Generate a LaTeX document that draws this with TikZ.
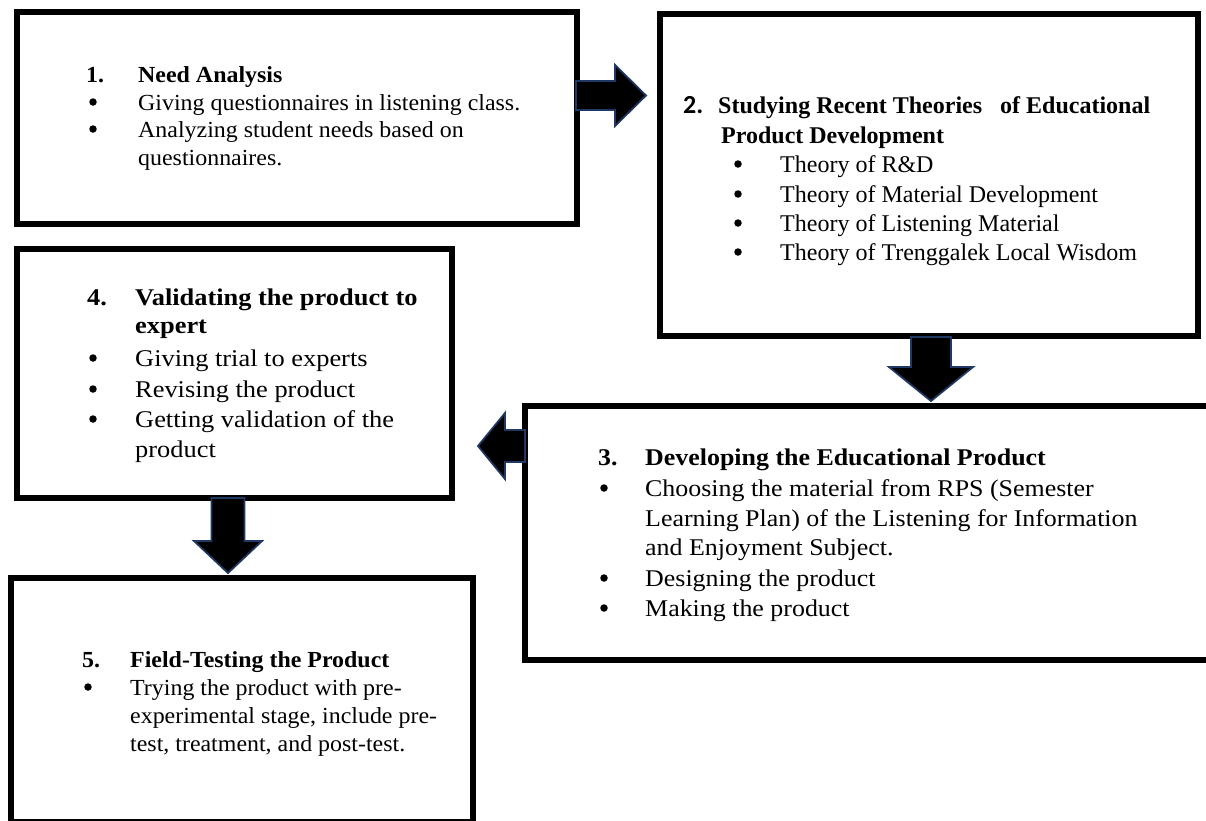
\documentclass[tikz,border=0pt]{standalone}
\usepackage{fontspec}
\setmainfont{Liberation Serif}
\newfontfamily\fA[FakeStretch=1.04]{Liberation Serif}
\newfontfamily\fB[FakeStretch=1.0]{Liberation Serif}
\newfontfamily\fD[FakeStretch=1.08]{Liberation Serif}
\newfontfamily\fE[FakeStretch=1.1]{Liberation Serif}
\newfontfamily\fC{Carlito}
\usetikzlibrary{calc}
\definecolor{navy}{RGB}{31,56,100}
\newcommand\blockarrowH[5]{%
  \filldraw[blockarr] ($(#1)+(0,-#3)$) -- ($(#2)+(#5,-#3)$) -- ($(#2)+(#5,-#4)$) -- (#2) -- ($(#2)+(#5,#4)$) -- ($(#2)+(#5,#3)$) -- ($(#1)+(0,#3)$) -- cycle;}
\newcommand\blockarrowV[5]{%
  \filldraw[blockarr] ($(#1)+(-#3,0)$) -- ($(#2)+(-#3,#5)$) -- ($(#2)+(-#4,#5)$) -- (#2) -- ($(#2)+(#4,#5)$) -- ($(#2)+(#3,#5)$) -- ($(#1)+(#3,0)$) -- cycle;}
\tikzset{
  stepbox/.style={draw=black, line width=6pt, fill=white, rectangle, inner sep=0pt, outer sep=0pt},
  blockarr/.style={fill=black, draw=navy, line width=1.8pt, line join=miter},
  txtA/.style={anchor=base west, inner sep=0pt, font=\fA\fontsize{23}{28}\selectfont},
  txtB/.style={anchor=base west, inner sep=0pt, font=\fB\fontsize{24}{29}\selectfont},
  txtD/.style={anchor=base west, inner sep=0pt, font=\fD\fontsize{24}{29}\selectfont},
  txtE/.style={anchor=base west, inner sep=0pt, font=\fE\fontsize{24}{29}\selectfont},
  bulletdot/.style={circle, fill=black, inner sep=0pt, minimum size=7.5pt},
}
\begin{document}
\begin{tikzpicture}[x=1pt,y=-1pt]
\useasboundingbox (0,0) rectangle (1206,820);
\fill[white] (0,0) rectangle (1206,820);
\begin{scope}
\clip (0,0) rectangle (1206,820);
% boxes
\node[stepbox, minimum width=560pt, minimum height=212pt] (box1) at (297,118) {};
\node[stepbox, minimum width=538pt, minimum height=322pt] (box2) at (929,175) {};
\node[stepbox, minimum width=687pt, minimum height=254pt] (box3) at (868.5,533) {};
\node[stepbox, minimum width=435pt, minimum height=249pt] (box4) at (234.5,373.5) {};
\node[stepbox, minimum width=462pt, minimum height=244pt] (box5) at (242,700) {};

% box 1 text
\node[txtA] (n1num) at (86,82) {\bfseries 1.};
\node[txtA] (n1head) at (138,82) {\bfseries Need Analysis};
\node[bulletdot] (n1b1) at (93,102) {};
\node[txtA] (n1l1) at (138,110) {Giving questionnaires in listening class.};
\node[bulletdot] (n1b2) at (93,129) {};
\node[txtA] (n1l2) at (138,137) {Analyzing student needs based on};
\node[txtA] (n1l3) at (138,165) {questionnaires.};

% box 2 text
\node[anchor=base west, inner sep=0pt, font=\fC\bfseries\fontsize{26}{29}\selectfont] (n2num) at (683,113) {2.};
\node[txtB] (n2head) at (718,113) {\bfseries Studying Recent Theories\ \ \ of Educational};
\node[txtB] (n2head2) at (721,143) {\bfseries Product Development};
\node[bulletdot] (n2b1) at (738,164) {};
\node[txtB] (n2l1) at (780,172) {Theory of R\&D};
\node[bulletdot] (n2b2) at (738,194) {};
\node[txtB] (n2l2) at (780,202) {Theory of Material Development};
\node[bulletdot] (n2b3) at (738,223) {};
\node[txtB] (n2l3) at (780,231) {Theory of Listening Material};
\node[bulletdot] (n2b4) at (738,252) {};
\node[txtB] (n2l4) at (780,260) {Theory of Trenggalek Local Wisdom};

% box 3 text
\node[txtD] (n3num) at (598,465) {\bfseries 3.};
\node[txtD] (n3head) at (645,465) {\bfseries Developing the Educational Product};
\node[bulletdot] (n3b1) at (604,488) {};
\node[txtD] (n3l1) at (645,496) {Choosing the material from RPS (Semester};
\node[txtD] (n3l2) at (645,526) {Learning Plan) of the Listening for Information};
\node[txtD] (n3l3) at (645,555) {and Enjoyment Subject.};
\node[bulletdot] (n3b2) at (604,578) {};
\node[txtD] (n3l4) at (645,586) {Designing the product};
\node[bulletdot] (n3b3) at (604,608) {};
\node[txtD] (n3l5) at (645,616) {Making the product};

% box 4 text
\node[txtE] (n4num) at (87,305) {\bfseries 4.};
\node[txtE] (n4head) at (135,305) {\bfseries Validating the product to};
\node[txtE] (n4head2) at (135,333) {\bfseries expert};
\node[bulletdot] (n4b1) at (93,358) {};
\node[txtE] (n4l1) at (135,366) {Giving trial to experts};
\node[bulletdot] (n4b2) at (93,389) {};
\node[txtE] (n4l2) at (135,397) {Revising the product};
\node[bulletdot] (n4b3) at (93,419) {};
\node[txtE] (n4l3) at (135,427) {Getting validation of the};
\node[txtE] (n4l4) at (135,457) {product};

% box 5 text
\node[txtA] (n5num) at (82,667) {\bfseries 5.};
\node[txtA] (n5head) at (130,667) {\bfseries Field-Testing the Product};
\node[bulletdot] (n5b1) at (88,687) {};
\node[txtA] (n5l1) at (130,695) {Trying the product with pre-};
\node[txtA] (n5l2) at (130,723) {experimental stage, include pre-};
\node[txtA] (n5l3) at (130,751) {test, treatment, and post-test.};

% block arrows between boxes
\coordinate (s12) at ($(box1.east |- 0,95.5)+(-1,0)$);
\coordinate (t12) at ($(box2.west |- 0,95.5)+(-14,0)$);
\blockarrowH{s12}{t12}{14.5}{30.5}{-31}
\coordinate (s23) at ($(box2.south -| 931,0)+(0,1)$);
\coordinate (t23) at ($(box3.north -| 931,0)+(0,-5)$);
\blockarrowV{s23}{t23}{20}{42}{-34}
\coordinate (s34) at (box3.west |- 0,446);
\coordinate (t34) at ($(box3.west |- 0,446)+(-47,0)$);
\blockarrowH{s34}{t34}{16}{33}{27}
\coordinate (s45) at (box4.south -| 228,0);
\coordinate (t45) at ($(box5.north -| 228,0)+(0,-5)$);
\blockarrowV{s45}{t45}{16.5}{34}{-32}
\end{scope}
\end{tikzpicture}
\end{document}
